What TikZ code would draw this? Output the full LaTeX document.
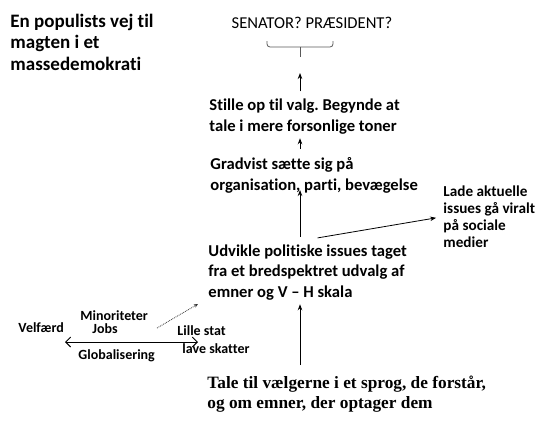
\documentclass[tikz,border=0pt]{standalone}
\usepackage{fontspec}
\setmainfont{Carlito}[Ligatures=NoCommon]
\newfontfamily\talefont{Liberation Serif}
\usetikzlibrary{arrows.meta, positioning}
\frenchspacing

\tikzset{
  txt/.style={anchor=base west, inner sep=0pt, align=left, font=\bfseries\fontsize{16.6}{20.5}\selectfont},
  small/.style={txt, font=\bfseries\fontsize{14}{17.5}\selectfont},
  arr/.style={-{Stealth[length=6pt, width=4.5pt]}, thick},
}

\begin{document}
\begin{tikzpicture}[x=1pt, y=-1pt, line width=0.9pt]
        \useasboundingbox (0,0) rectangle (537,432);

        % base = grundlinie for sidste linje
        \node[txt, font=\bfseries\fontsize{19}{21.5}\selectfont] (title) at (10,70)
            {En populists vej til\\magten i et\\massedemokrati};
        \node[anchor=base, inner sep=0pt, font=\fontsize{16.6}{18}\selectfont] (top) at (312,28)
            {SENATOR? PRÆSIDENT?};
        \coordinate (tip) at (300,57);
        \node[txt] (stille) at (209,131) {Stille op til valg. Begynde at\\tale i mere forsonlige toner};
        \node[txt] (gradvist) at (210,190) {Gradvist sætte sig på\\organisation, parti, bevægelse};
        \node[txt] (udvikle) at (208,297) {Udvikle politiske issues taget\\fra et bredspektret udvalg af\\emner og V -- H skala};
        \node[txt, font=\bfseries\fontsize{15.2}{16.7}\selectfont] (lade) at (443,247)
            {Lade aktuelle\\issues gå viralt\\på sociale\\medier};
        \node[txt, font=\talefont\bfseries\fontsize{17.3}{20}\selectfont] (tale) at (207,408)
            {Tale til vælgerne i et sprog, de forstår,\\og om emner, der optager dem};

        % akse
        \node[small] (velfaerd) at (18,332) {Velfærd};
        \node[small] (minor) at (80,320) {Minoriteter};
        \node[small] (jobs) at (92,333) {Jobs};
        \node[small] (glob) at (78,359) {Globalisering};
        \node[small] (lille) at (177,335) {Lille stat};
        \node[small] (lave) at (182,353) {lave skatter};
        \coordinate (venstre) at (65,342);
        \coordinate (hoejre) at (198,342);
        \coordinate (prik) at (157,328);
        \coordinate (prikspids) at (198,304);

        % klamme
        \draw[gray!70!black, line width=0.8pt, rounded corners=3pt]
            (267,41) |- (300,47) -| (333,41);
        \draw[gray!70!black, line width=0.8pt] (300,47) -- (tip);

        \path[arr]
        (stille.north -| tip) edge [shorten <=7pt, shorten >=16pt] (tip)
        (gradvist.north -| tip) edge [shorten <=8pt, shorten >=4pt] (stille.south -| tip)
        (udvikle.north -| tip) edge [shorten <=7pt] (gradvist.base -| tip)
        ([xshift=10pt, yshift=6pt]udvikle.north) edge [shorten >=7pt] (lade.west)
        (tip |- tale.north) edge [shorten <=10pt, shorten >=4pt] (udvikle.south -| tip);
        \draw[{Straight Barb[length=5pt]}-{Straight Barb[length=5pt]}] (venstre) -- (hoejre);
        \draw[densely dotted, -{Stealth[length=4pt, width=3.5pt]}, line width=0.8pt, black!80]
            (prik) -- (prikspids);
    \end{tikzpicture}
\end{document}
